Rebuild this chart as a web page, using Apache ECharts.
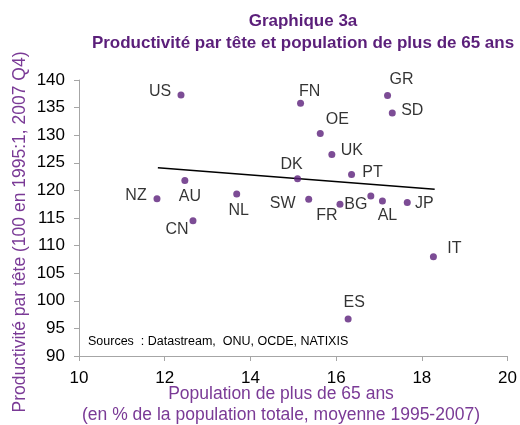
<!DOCTYPE html>
<html>
<head>
<meta charset="utf-8">
<script src="https://cdn.jsdelivr.net/npm/echarts@6/dist/echarts.min.js"></script>
<style>
  html, body { margin: 0; padding: 0; background: #fff; }
  #chart { width: 520px; height: 425px; }
</style>
</head>
<body>
<div id="chart"></div>
<script>
// pays
var countries = ["US", "FN", "OE", "UK", "DK", "AU", "NZ", "NL", "CN", "SW", "FR", "GR", "SD", "PT", "BG", "AL", "JP", "IT", "ES"];
// population de plus de 65 ans (% population totale)
var popOld = [12.38, 15.17, 15.63, 15.9, 15.1, 12.47, 11.82, 13.68, 12.66, 15.36, 16.09, 17.2, 17.31, 16.36, 16.81, 17.08, 17.66, 18.27, 16.28];
// productivité par tête (100 en 1995:1)
var prodTete = [137.3, 135.8, 130.3, 126.5, 122.1, 121.8, 118.5, 119.35, 114.5, 118.4, 117.5, 137.2, 134.0, 122.9, 119.0, 118.1, 117.8, 108.0, 96.7];
// droite de tendance
var trendX = [11.84, 18.3];
var trendY = [124.1, 120.2];

// placement des étiquettes (décalage par rapport au point)
var labelOffset = {
  US: [-21, -3], FN: [9, -12], OE: [17, -14], UK: [20, -4], DK: [-6, -14],
  AU: [5, 16], NZ: [-21, -3], NL: [2, 17], CN: [-16, 9], SW: [-26, 4],
  FR: [-13, 11], GR: [14, -16], SD: [20, -3], PT: [21, -2], BG: [-15, 9],
  AL: [5, 15], JP: [17, 1], IT: [21, -8], ES: [6, -16]
};

var purple = "#5B1F7A";
var font = "Liberation Sans, Arial, sans-serif";

var chart = echarts.init(document.getElementById("chart"));

var points = countries.map(function (c, i) {
  return {
    name: c,
    value: [popOld[i], prodTete[i]],
    label: { offset: labelOffset[c] }
  };
});

var option = {
  animation: false,
  title: {
    text: "Graphique 3a\nProductivité par tête et population de plus de 65 ans",
    left: 298,
    top: 5,
    textAlign: "center",
    textStyle: {
      fontFamily: font,
      fontSize: 17,
      fontWeight: "bold",
      color: purple,
      lineHeight: 22
    }
  },
  grid: {
    left: 79,
    right: 10,
    top: 80,
    bottom: 69
  },
  xAxis: {
    type: "value",
    min: 10,
    max: 20,
    interval: 2,
    splitLine: { show: false },
    axisLine: { lineStyle: { color: "#A6A6A6", width: 1 } },
    axisTick: { show: true, length: 5, lineStyle: { color: "#A6A6A6" } },
    axisLabel: { fontFamily: font, fontSize: 17, color: "#000", margin: 14 }
  },
  yAxis: {
    type: "value",
    min: 90,
    max: 140,
    interval: 5,
    splitLine: { show: false },
    axisLine: { show: true, lineStyle: { color: "#A6A6A6", width: 1 } },
    axisTick: { show: true, length: 5, lineStyle: { color: "#A6A6A6" } },
    axisLabel: { fontFamily: font, fontSize: 17, color: "#000", margin: 14 }
  },
  graphic: [
    {
      type: "text",
      left: 88,
      top: 335,
      style: {
        text: "Sources  : Datastream,  ONU, OCDE, NATIXIS",
        font: "12.5px " + font,
        fill: "#000"
      }
    },
    {
      type: "text",
      x: 20,
      y: 232,
      rotation: Math.PI / 2,
      style: {
        text: "Productivité par tête (100 en 1995:1, 2007 Q4)",
        font: "17.5px " + font,
        fill: "#7A3A96",
        align: "center",
        verticalAlign: "middle"
      }
    },
    {
      type: "text",
      x: 281,
      y: 405,
      style: {
        text: "Population de plus de 65 ans\n(en % de la population totale, moyenne 1995-2007)",
        font: "17.5px " + font,
        fill: "#7A3A96",
        align: "center",
        verticalAlign: "middle",
        lineHeight: 21
      }
    }
  ],
  series: [
    {
      type: "line",
      data: trendX.map(function (x, i) { return [x, trendY[i]]; }),
      symbol: "none",
      lineStyle: { color: "#000", width: 1.5 },
      z: 1
    },
    {
      type: "scatter",
      data: points,
      symbolSize: 7,
      itemStyle: { color: purple },
      label: {
        show: true,
        position: "inside",
        formatter: "{b}",
        fontFamily: font,
        fontSize: 16,
        color: "#000",
        align: "center",
        verticalAlign: "middle"
      },
      z: 2
    }
  ]
};

chart.setOption(option);
</script>
</body>
</html>
